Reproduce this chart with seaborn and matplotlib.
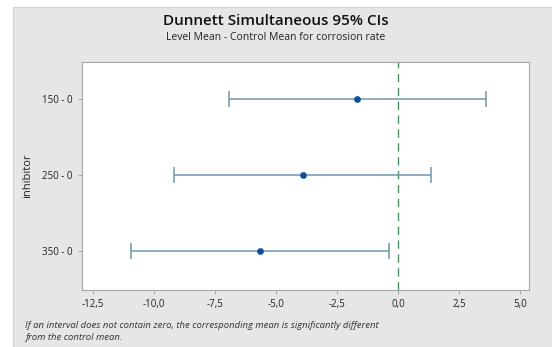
import matplotlib
matplotlib.use("Agg")
import matplotlib.pyplot as plt
import matplotlib.patches as mpatches
from matplotlib.ticker import FuncFormatter
import pandas as pd
import seaborn as sns

# Dunnett comparisons vs control (inhibitor = 0)
levels = ["150 - 0", "250 - 0", "350 - 0"]
diff_mean = [-1.68, -3.92, -5.67]
ci_lower = [-6.94, -9.20, -10.94]
ci_upper = [3.59, 1.32, -0.40]
x_ticks = [-12.5, -10.0, -7.5, -5.0, -2.5, 0.0, 2.5, 5.0]

df = pd.DataFrame({"level": levels, "mean": diff_mean,
                   "lo": ci_lower, "hi": ci_upper})

sns.set_style("white")
plt.rcParams["font.family"] = ["Open Sans", "DejaVu Sans"]

fig = plt.figure(figsize=(5.52, 3.47), dpi=100, facecolor="white")
# grey panel behind the graph (white strip on top/left like the screenshot)
fig.patches.append(mpatches.Rectangle((13 / 552, 0), 1, 1 - 7 / 347,
                                      transform=fig.transFigure,
                                      facecolor="#e6e6e6", edgecolor="#d0d0d0",
                                      lw=0.8, zorder=-1))

ax = fig.add_axes([82 / 552, 1 - 290 / 347, (529 - 82) / 552, (290 - 62) / 347])
ax.set_facecolor("white")

line_col = "#7195ae"
dot_col = "#0d4f9a"

ax.errorbar(df["mean"], df["level"],
            xerr=[df["mean"] - df["lo"], df["hi"] - df["mean"]],
            fmt="none", ecolor=line_col, elinewidth=1.1, capsize=6,
            capthick=1.1, zorder=2)
sns.scatterplot(data=df, x="mean", y="level", ax=ax, color=dot_col,
                s=20, edgecolor=dot_col, zorder=3, legend=False)

ax.axvline(0, color="#4a9065", ls=(0, (6, 4)), lw=1.0, zorder=1)

ax.set_xlim(-12.95, 5.35)
ax.set_ylim(2.52, -0.49)
ax.set_xticks(x_ticks)
ax.xaxis.set_major_formatter(FuncFormatter(lambda v, p: f"{v:.1f}".replace(".", ",")))
ax.tick_params(axis="both", labelsize=7, length=3, width=0.6,
               direction="out", bottom=True, left=True,
               colors="#999999", labelcolor="#222222")
ax.set_xlabel("")
ax.set_ylabel("inhibitor", fontsize=8, color="#222222")
ax.yaxis.set_label_coords(-0.11, 0.5)
for sp in ax.spines.values():
    sp.set_color("#a5a5a5")
    sp.set_linewidth(0.8)

fig.text(0.5, 1 - 21 / 347, "Dunnett Simultaneous 95% CIs", ha="center",
         va="center", fontsize=11, fontweight="semibold", color="#111111")
fig.text(0.5, 1 - 38 / 347, "Level Mean - Control Mean for corrosion rate",
         ha="center", va="center", fontsize=7.5, color="#222222")
fig.text(25 / 552, 1 - 325 / 347,
         "If an interval does not contain zero, the corresponding mean is significantly different",
         ha="left", va="center", fontsize=6.8, style="italic", color="#333333")
fig.text(25 / 552, 1 - 338 / 347, "from the control mean.",
         ha="left", va="center", fontsize=6.8, style="italic", color="#333333")

fig.savefig("out.png", dpi=100, facecolor=fig.get_facecolor())
